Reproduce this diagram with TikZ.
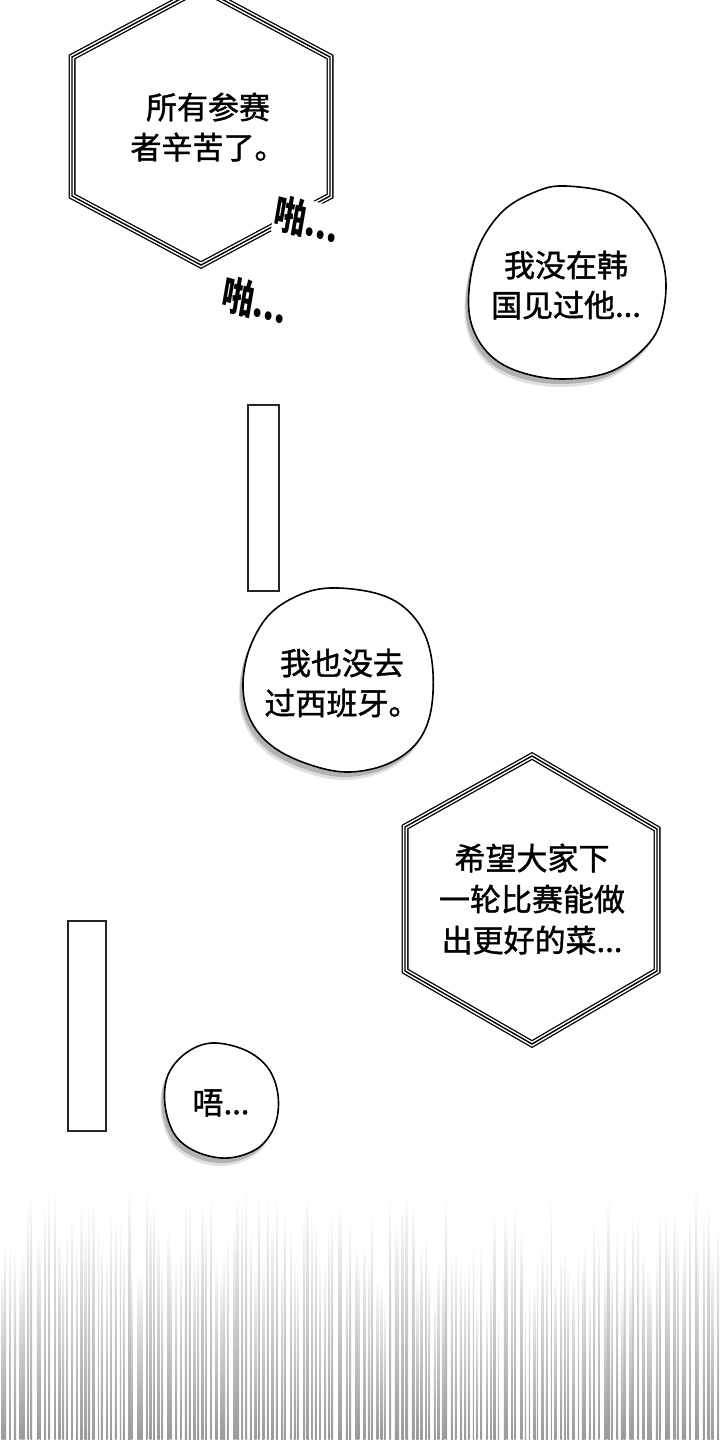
\documentclass[tikz,border=0pt]{standalone}
\usepackage{fontspec}
\newfontfamily\cjk{Noto Sans CJK SC}[FakeBold=1.3]
\newfontfamily\cjkx{Noto Sans CJK SC}
\begin{document}
\begin{tikzpicture}[x=1pt,y=-1pt,
  tri/.style={draw=black, line width=7pt, line join=miter,
    postaction={draw=white, line width=4.4pt, line join=miter},
    postaction={draw=black, line width=1.4pt, line join=miter}},
  bub/.style={draw=black, line width=1.6pt, fill=white},
  shad/.style={fill=gray!60},
  shadl/.style={fill=gray!25},
  bar/.style={draw=black!85, line width=1.3pt, fill=white},
  txt/.style={font=\cjk\fontsize{31}{40}\selectfont, align=center, inner sep=0pt},
  sfx/.style={font=\cjkx\bfseries\fontsize{40}{40}\selectfont, inner sep=1pt, fill=white, xscale=0.8, rotate=-12}]
\useasboundingbox (0,0) rectangle (720,1440);
\fill[white] (0,0) rectangle (720,1440);
\clip (0,0) rectangle (720,1440);

% speed lines
\pgfmathsetseed{11}
\foreach \i in {0,...,165}{
  \pgfmathsetmacro{\xx}{\i*4.36+rnd*2.5}
  \pgfmathsetmacro{\ys}{1185+rnd*90+70*rnd*max(0,1-abs(\xx-480)/200)}
  \pgfmathsetmacro{\ww}{1.2+rnd*1.3}
  \shade[top color=white, middle color=black!38, bottom color=black!40] (\xx,\ys) rectangle (\xx+\ww,1440);
}

% hexagon 1
\draw[tri] (72,57) -- (201,-12) -- (330,57) -- (330,196) -- (201,265) -- (72,196) -- cycle;
\node[txt] (h1) at (208,127) {所有参赛\\者辛苦了。};
\node[sfx] (pa1) at (307,220) {啪...};
\node[sfx] (pa2) at (255,301) {啪...};

% bubble 2
\def\bubA{(565,186) (615,195) (646,224) (664,266) (664,308) (650,342) (612,371) (563,379) (520,372) (490,355) (472,326) (469,290) (479,246) (503,211) (535,192)}
\fill[shadl] plot[smooth cycle, tension=0.6, shift={(-4,8)}] coordinates {\bubA};
\fill[shad] plot[smooth cycle, tension=0.6, shift={(-3,5)}] coordinates {\bubA};
\draw[bub] plot[smooth cycle, tension=0.6] coordinates {\bubA};
\node[txt] (b2) at (566,285) {我没在韩\\国见过他...};

% bar 1
\draw[bar] (248,405) rectangle (279,591);

% bubble 3
\def\bubB{(330,588) (375,593) (405,608) (425,635) (433,672) (430,715) (415,745) (385,765) (345,772) (305,763) (272,746) (251,721) (243,688) (249,650) (268,616) (297,596)}
\fill[shadl] plot[smooth cycle, tension=0.6, shift={(-4,8)}] coordinates {\bubB};
\fill[shad] plot[smooth cycle, tension=0.6, shift={(-3,5)}] coordinates {\bubB};
\draw[bub] plot[smooth cycle, tension=0.6] coordinates {\bubB};
\node[txt] (b3) at (342,683) {我也没去\\过西班牙。};

% hexagon 2
\draw[tri] (405,827) -- (532,756) -- (657,829) -- (657,971) -- (532,1044) -- (405,971) -- cycle;
\node[txt, font=\cjk\fontsize{31}{41}\selectfont] (h2) at (532,899) {希望大家下\\一轮比赛能做\\出更好的菜...};

% bar 2
\draw[bar] (68,921) rectangle (106,1131);

% bubble 4
\def\bubC{(212,1043) (245,1050) (268,1068) (278,1095) (275,1125) (258,1148) (228,1158) (197,1152) (175,1135) (165,1105) (168,1075) (186,1053)}
\fill[shadl] plot[smooth cycle, tension=0.6, shift={(-4,8)}] coordinates {\bubC};
\fill[shad] plot[smooth cycle, tension=0.6, shift={(-3,5)}] coordinates {\bubC};
\draw[bub] plot[smooth cycle, tension=0.6] coordinates {\bubC};
\node[txt] (b4) at (221,1103) {唔...};
\end{tikzpicture}
\end{document}
